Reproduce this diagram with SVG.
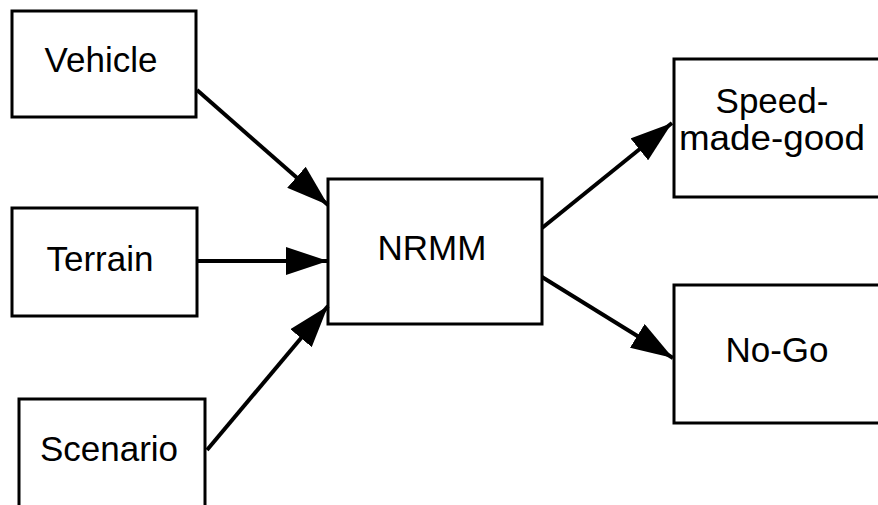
<svg xmlns="http://www.w3.org/2000/svg" width="878" height="505" viewBox="0 0 878 505">
<style>
.box{fill:#fff;stroke:#000;stroke-width:3}
.lbl{font-family:"Liberation Sans",Arial,sans-serif;font-size:35px;fill:#000;text-anchor:middle}
.conn{stroke:#000;stroke-width:4;fill:none;marker-end:url(#ah)}
</style>
<defs>
<marker id="ah" markerUnits="userSpaceOnUse" viewBox="0 0 42 28" markerWidth="42" markerHeight="28" refX="42" refY="14" orient="auto">
<path d="M0,0 L42,14 L0,28 Z" fill="#000"/>
</marker>
</defs>
<rect width="878" height="505" fill="#fff"/>
<g id="vehicle"><rect class="box" x="12" y="11" width="184" height="106"/><text class="lbl" x="101" y="72">Vehicle</text></g>
<g id="terrain"><rect class="box" x="12" y="208" width="185" height="108"/><text class="lbl" x="100" y="271">Terrain</text></g>
<g id="scenario"><rect class="box" x="19" y="399" width="186" height="130"/><text class="lbl" x="109" y="461">Scenario</text></g>
<g id="nrmm"><rect class="box" x="328" y="179" width="214" height="145"/><text class="lbl" x="432" y="260">NRMM</text></g>
<g id="speed"><rect class="box" x="674" y="59" width="230" height="138"/><text class="lbl" x="772" y="113">Speed-</text><text class="lbl" x="772" y="150" textLength="186" lengthAdjust="spacingAndGlyphs">made-good</text></g>
<g id="nogo"><rect class="box" x="674" y="285" width="230" height="138"/><text class="lbl" x="777" y="362">No-Go</text></g>
<g id="connectors">
<line class="conn" x1="197" y1="90" x2="328" y2="205"/>
<line class="conn" x1="197" y1="261" x2="328" y2="261"/>
<line class="conn" x1="207" y1="450" x2="328" y2="306"/>
<line class="conn" x1="542" y1="228" x2="672" y2="123"/>
<line class="conn" x1="542" y1="277" x2="673" y2="358"/>
</g>
</svg>
